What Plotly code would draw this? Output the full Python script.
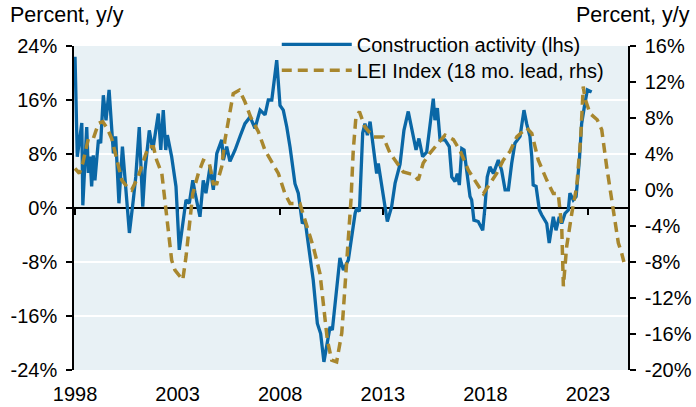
import plotly.graph_objects as go

# ---- Data ----
constr_year = [1998.00, 1998.11, 1998.33, 1998.38, 1998.57, 1998.65, 1998.73, 1998.81, 1998.89, 1998.97,
               1999.14, 1999.25, 1999.38, 1999.51, 1999.66, 1999.79, 1999.87, 1999.98, 2000.14, 2000.31,
               2000.44, 2000.65, 2000.84, 2000.96, 2001.13, 2001.30, 2001.41, 2001.62, 2001.79, 2002.06,
               2002.18, 2002.30, 2002.42, 2002.50, 2002.71, 2002.92, 2003.08, 2003.20, 2003.41, 2003.57,
               2003.74, 2003.85, 2004.09, 2004.25, 2004.38, 2004.58, 2004.74, 2004.91, 2005.15, 2005.23,
               2005.39, 2005.55, 2005.80, 2006.04, 2006.28, 2006.53, 2006.77, 2007.02, 2007.26, 2007.42,
               2007.59, 2007.83, 2007.99, 2008.15, 2008.32, 2008.48, 2008.72, 2008.88, 2009.08, 2009.21,
               2009.37, 2009.61, 2009.81, 2009.97, 2010.13, 2010.43, 2010.54, 2010.75, 2010.91, 2011.08,
               2011.32, 2011.65, 2011.73, 2011.86, 2012.02, 2012.13, 2012.25, 2012.38, 2012.51, 2012.70,
               2012.78, 2012.95, 2013.11, 2013.22, 2013.43, 2013.60, 2013.84, 2014.03, 2014.24, 2014.41,
               2014.62, 2014.76, 2014.94, 2015.14, 2015.33, 2015.46, 2015.54, 2015.66, 2015.79, 2016.03,
               2016.24, 2016.36, 2016.52, 2016.63, 2016.73, 2016.85, 2016.96, 2017.09, 2017.25, 2017.33,
               2017.44, 2017.65, 2017.87, 2017.98, 2018.09, 2018.22, 2018.39, 2018.63, 2018.79, 2018.96,
               2019.12, 2019.28, 2019.44, 2019.69, 2019.88, 2020.01, 2020.17, 2020.26, 2020.33, 2020.47,
               2020.63, 2020.74, 2020.90, 2020.99, 2021.11, 2021.31, 2021.44, 2021.60, 2021.72, 2021.88,
               2022.04, 2022.12, 2022.28, 2022.42, 2022.58, 2022.69, 2022.85, 2022.97, 2023.18]
constr_value = [22.4, 7.6, 12.6, 0.4, 12.0, 5.2, 7.6, 3.2, 7.8, 4.1,
                10.1, 9.6, 16.7, 13.0, 17.5, 11.5, 8.1, 10.6, 0.7, 9.1,
                3.7, -3.7, 1.2, 4.6, 12.0, 0.2, 5.6, 11.5, 8.6, 14.0,
                8.6, 14.5, 8.6, 10.8, 7.6, 3.2, -6.2, -3.7, 1.2, 0.7,
                4.1, 2.2, -1.3, 4.1, 2.2, 6.1, 2.7, 8.1, 10.1, 7.1,
                9.1, 6.9, 8.6, 10.6, 12.5, 13.5, 11.8, 14.5, 13.8, 16.0,
                16.0, 21.9, 15.2, 14.5, 12.0, 9.0, 3.6, 2.2, -2.3, -1.8,
                -5.7, -10.7, -17.1, -18.6, -22.8, -17.6, -18.1, -12.1, -7.4, -9.2,
                -7.7, -0.8, 0.0, -0.5, 11.1, 12.5, 10.8, 12.8, 9.6, 5.1,
                6.6, 3.2, 0.2, -2.0, 0.2, 3.7, 6.5, 11.5, 14.3, 12.0,
                8.6, 10.3, 7.6, 8.3, 12.5, 16.2, 13.0, 14.8, 10.1, 10.1,
                9.1, 4.6, 3.9, 5.1, 3.4, 8.8, 8.6, 5.1, 1.7, 1.2,
                -1.8, -2.0, -3.3, 0.2, 4.6, 6.1, 5.1, 7.1, 5.6, 2.7,
                2.7, 6.6, 9.6, 10.6, 14.5, 12.5, 10.6, 7.6, 3.4, 3.2,
                -0.3, -1.0, -2.0, -2.3, -5.2, -1.3, -3.3, -1.3, -2.3, -0.8,
                -0.3, 2.2, 1.2, 1.7, 7.1, 12.5, 15.5, 17.5, 17.2]

lei_year = [1998.00, 1998.21, 1998.38, 1998.65, 1998.89, 1999.14, 1999.35, 1999.57, 1999.79, 1999.95,
            2000.11, 2000.28, 2000.52, 2000.76, 2001.08, 2001.36, 2001.57, 2001.82, 2001.98, 2002.23,
            2002.39, 2002.55, 2002.71, 2002.87, 2003.20, 2003.25, 2003.41, 2003.57, 2003.74, 2004.01,
            2004.25, 2004.54, 2004.74, 2004.91, 2005.15, 2005.31, 2005.52, 2005.71, 2006.01, 2006.28,
            2006.56, 2006.93, 2007.26, 2007.59, 2007.91, 2008.23, 2008.48, 2008.96, 2009.29, 2009.61,
            2009.94, 2010.10, 2010.30, 2010.51, 2010.75, 2011.00, 2011.16, 2011.32, 2011.45, 2011.56,
            2011.69, 2011.86, 2012.13, 2012.54, 2013.02, 2013.35, 2013.68, 2014.00, 2014.49, 2014.73,
            2014.97, 2015.30, 2015.70, 2016.03, 2016.44, 2016.76, 2017.17, 2017.49, 2017.90, 2018.22,
            2018.55, 2018.87, 2019.20, 2019.53, 2020.01, 2020.26, 2020.58, 2020.99, 2021.31, 2021.55,
            2021.72, 2021.80, 2021.96, 2022.21, 2022.45, 2022.64, 2022.77, 2022.85, 2023.10, 2023.45,
            2023.67, 2023.91, 2024.23, 2024.48, 2024.64, 2024.75]
lei_value = [2.4, 1.85, 3.0, 5.7, 5.7, 7.4, 7.6, 6.85, 5.7, 4.1,
             2.6, 1.1, 0.4, 0.0, 1.5, 3.3, 4.8, 4.8, 3.3, 1.85,
             -1.1, -4.8, -7.8, -8.9, -9.8, -10.0, -7.4, -3.7, -0.4, 1.85,
             3.3, 3.0, 0.7, 0.7, 2.6, 5.6, 8.5, 10.7, 11.1, 9.8,
             8.1, 6.5, 4.4, 3.1, 1.85, -0.4, -1.5, -1.5, -4.1, -6.3,
             -9.3, -13.0, -16.7, -18.9, -19.1, -15.9, -10.7, -6.3, -1.1, 4.4,
             8.1, 8.7, 7.0, 5.9, 5.9, 4.1, 3.0, 2.0, 1.7, 1.1,
             3.0, 4.1, 5.2, 6.1, 5.6, 4.4, 2.2, 1.1, -0.4, 0.7,
             1.85, 3.3, 4.3, 5.9, 6.9, 6.3, 3.3, 1.1, -0.4, -0.4,
             -4.1, -10.7, -6.3, -2.6, 0.4, 5.6, 11.5, 10.2, 8.5, 7.8,
             6.7, 2.6, -1.85, -5.9, -7.0, -8.0]

x_tick_vals = [1998, 2003, 2008, 2013, 2018, 2023]
x_tick_text = ["1998", "2003", "2008", "2013", "2018", "2023"]
left_tick_vals = [-24, -16, -8, 0, 8, 16, 24]
left_tick_text = ["-24%", "-16%", "-8%", "0%", "8%", "16%", "24%"]
right_tick_vals = [-20, -16, -12, -8, -4, 0, 4, 8, 12, 16]
right_tick_text = ["-20%", "-16%", "-12%", "-8%", "-4%", "0%", "4%", "8%", "12%", "16%"]

BLUE = "#0a67a6"
GOLD = "#a8872e"
FONT = "Liberation Sans, Arial, sans-serif"
FS = 20

fig = go.Figure()
fig.add_trace(go.Scatter(x=constr_year, y=constr_value, name="Construction activity (lhs)",
                         mode="lines", line=dict(color=BLUE, width=3.3), yaxis="y", xaxis="x",
                         legend="legend"))
fig.add_trace(go.Scatter(x=lei_year, y=lei_value, name="LEI Index (18 mo. lead, rhs)",
                         mode="lines", line=dict(color=GOLD, width=3.5, dash="10px,6px"),
                         yaxis="y2", xaxis="x", legend="legend2"))
# invisible helper trace so the zero-line tick axis is drawn
fig.add_trace(go.Scatter(x=x_tick_vals, y=[0] * len(x_tick_vals), mode="lines",
                         line=dict(width=0, color="rgba(0,0,0,0)"), showlegend=False,
                         hoverinfo="skip", xaxis="x2", yaxis="y"))

x_range = [1997.95, 2024.95]
legend_common = dict(xanchor="left", yanchor="top", bgcolor="rgba(0,0,0,0)",
                     font=dict(size=FS, family=FONT), itemwidth=70)

fig.update_layout(
    width=696, height=407,
    margin=dict(l=74, r=68, t=46, b=37, autoexpand=False),
    paper_bgcolor="white",
    plot_bgcolor="#e8f1f5",
    font=dict(family=FONT, size=FS, color="black"),
    showlegend=True,
    legend=dict(x=0.366, y=1.065, **legend_common),
    legend2=dict(x=0.366, y=0.985, **legend_common),
    xaxis=dict(range=x_range, tickvals=x_tick_vals, ticktext=x_tick_text,
               showgrid=False, showline=False, ticks="", zeroline=False,
               tickfont=dict(size=FS), automargin=False, ticklabelstandoff=10),
    xaxis2=dict(range=x_range, overlaying="x", anchor="free", position=0.5,
                tickvals=x_tick_vals, showticklabels=False, ticks="outside",
                ticklen=6, tickwidth=1.5, tickcolor="black", showline=True,
                linecolor="black", linewidth=1.5, showgrid=False, zeroline=False,
                layer="below traces"),
    yaxis=dict(range=[-24, 24], tickvals=left_tick_vals, ticktext=left_tick_text,
               showgrid=True, gridcolor="white", gridwidth=2, zeroline=False,
               showline=True, linecolor="black", linewidth=1.5,
               ticks="outside", ticklen=6, tickwidth=1.5, tickcolor="black",
               tickfont=dict(size=FS), automargin=False, ticklabelstandoff=5),
    yaxis2=dict(range=[-20, 16], tickvals=right_tick_vals, ticktext=right_tick_text,
                overlaying="y", side="right", showgrid=False, zeroline=False,
                showline=True, linecolor="black", linewidth=1.5,
                ticks="outside", ticklen=6, tickwidth=1.5, tickcolor="black",
                tickfont=dict(size=FS), automargin=False, ticklabelstandoff=5),
    annotations=[
        dict(text="Percent, y/y", xref="paper", yref="paper", x=-0.119, y=1.097,
             xanchor="left", yanchor="middle", showarrow=False, font=dict(size=21.5)),
        dict(text="Percent, y/y", xref="paper", yref="paper", x=1.1155, y=1.097,
             xanchor="right", yanchor="middle", showarrow=False, font=dict(size=21.5)),
    ],
)

fig.write_html("out.html", config={"displayModeBar": False},
               post_script="document.body.style.margin='0';document.body.style.overflow='hidden';")
